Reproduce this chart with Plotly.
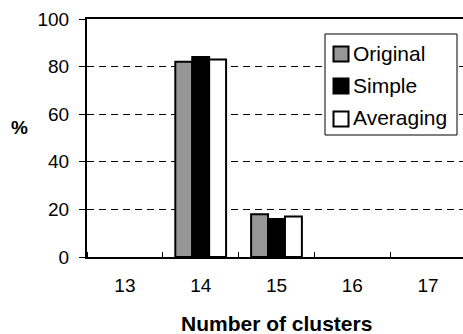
import plotly.graph_objects as go

# Share of runs (%) that ended with each number of clusters
clusters = [13, 14, 15, 16, 17]
original = [0, 82, 18, 0, 0]
simple = [0, 84, 16, 0, 0]
averaging = [0, 83, 17, 0, 0]

series = [
    ("Original", original, "#969696"),
    ("Simple", simple, "#000000"),
    ("Averaging", averaging, "#ffffff"),
]

FONT = "Liberation Sans, Arial, sans-serif"

# plot area geometry in pixels
L, R, T, B = 87, 463, 19, 257
plot_w, plot_h = R - L, B - T
cat_w = 75.8


def px_x(px):
    return (px - L) / plot_w


def px_y(py):
    return (B - py) / plot_h


fig = go.Figure()
for name, vals, color in series:
    fig.add_trace(go.Bar(
        x=clusters, y=vals, name=name, showlegend=False,
        marker=dict(color=color,
                    line=dict(color="black",
                              width=[2 if v else 0 for v in vals])),
    ))

# boxed legend at upper right
shapes = [dict(type="rect", xref="paper", yref="paper",
               x0=px_x(325), x1=px_x(457), y0=px_y(135), y1=px_y(34),
               fillcolor="white", line=dict(color="black", width=1),
               layer="above")]
annotations = []
for (name, _, color), cy in zip(series, [54, 86, 119]):
    shapes.append(dict(type="rect", xref="paper", yref="paper",
                       x0=px_x(333.5), x1=px_x(348.5),
                       y0=px_y(cy + 7.5), y1=px_y(cy - 7.5),
                       fillcolor=color, line=dict(color="black", width=2),
                       layer="above"))
    annotations.append(dict(text=name, xref="paper", yref="paper",
                            x=px_x(351), y=px_y(cy - 1),
                            xanchor="left", yanchor="middle", showarrow=False,
                            font=dict(size=21)))

annotations += [
    dict(text="<b>%</b>", xref="paper", yref="paper",
         x=px_x(19.5), y=px_y(127),
         xanchor="center", yanchor="middle", showarrow=False,
         font=dict(size=19)),
    dict(text="<b>Number of clusters</b>", xref="paper", yref="paper",
         x=px_x(276.5), y=px_y(323),
         xanchor="center", yanchor="middle", showarrow=False,
         font=dict(size=21)),
]

fig.update_layout(
    width=463, height=334,
    margin=dict(l=L, r=463 - R, t=T, b=334 - B),
    paper_bgcolor="white", plot_bgcolor="white",
    barmode="group", bargap=0.33, bargroupgap=0,
    font=dict(family=FONT, size=19, color="black"),
    showlegend=False,
    xaxis=dict(
        range=[12.5, 12.5 + plot_w / cat_w],
        tickmode="array", tickvals=clusters, ticktext=[str(c) for c in clusters],
        ticks="", ticklabelstandoff=10,
        showline=True, linecolor="black", linewidth=2, mirror=True,
        showgrid=False, zeroline=False,
        minor=dict(tickmode="linear", tick0=12.5, dtick=1, ticks="inside",
                   ticklen=5, tickcolor="black", showgrid=False),
    ),
    yaxis=dict(
        range=[0, 100], tickmode="linear", tick0=0, dtick=20,
        ticks="outside", ticklen=6, tickcolor="black", ticklabelstandoff=6,
        showline=True, linecolor="black", linewidth=2,
        showgrid=True, gridcolor="black", gridwidth=1, griddash="7px,5px",
        zeroline=False,
    ),
    shapes=shapes,
    annotations=annotations,
)

fig.write_html("out.html")
